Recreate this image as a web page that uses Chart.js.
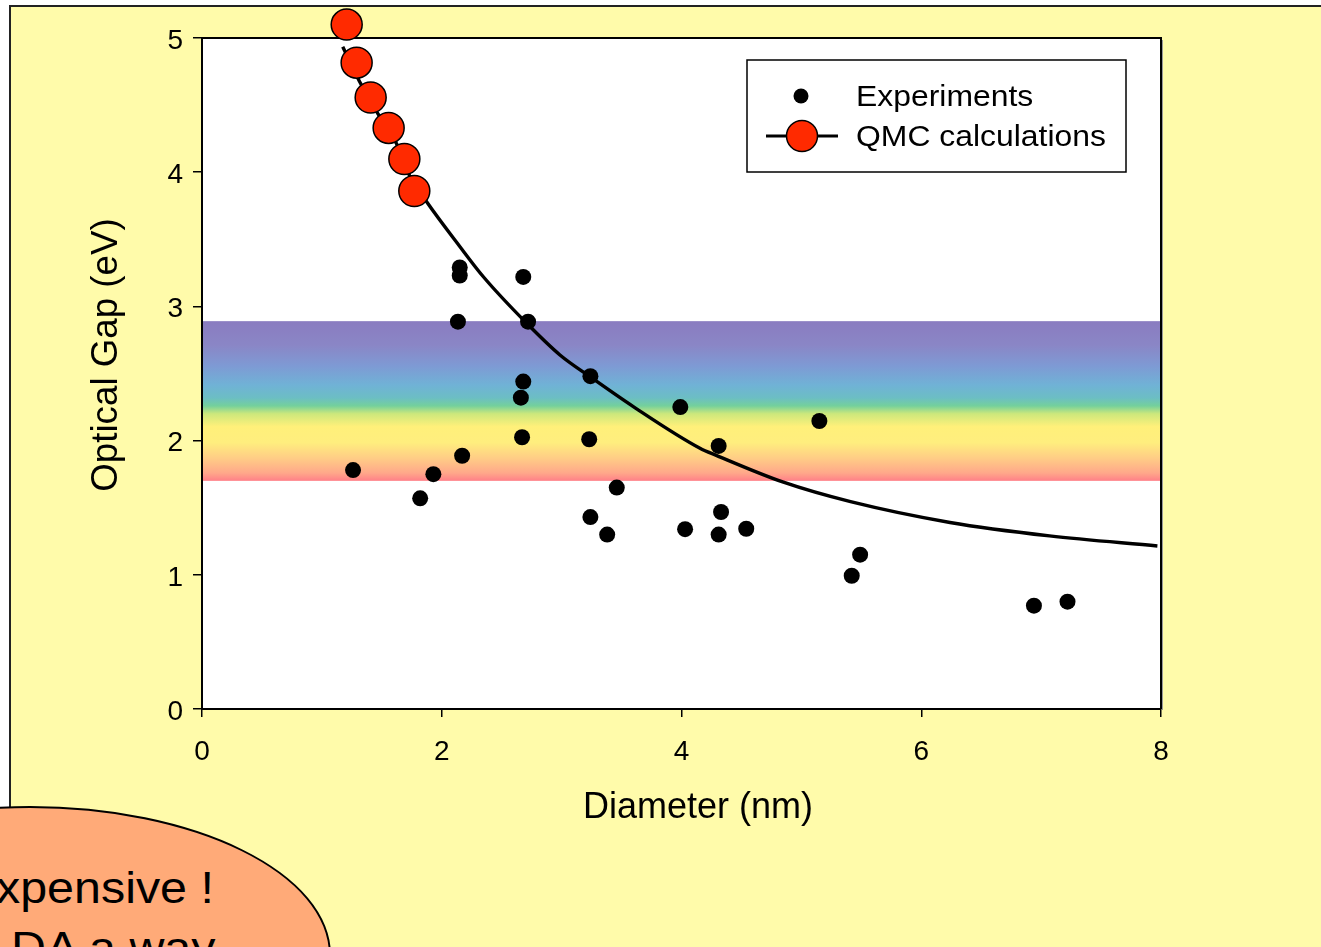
<!DOCTYPE html>
<html>
<head>
<meta charset="utf-8">
<script src="https://cdn.jsdelivr.net/npm/chart.js@4.4.1/dist/chart.umd.min.js"></script>
<style>
html,body{margin:0;padding:0;width:1321px;height:947px;overflow:hidden;background:#fff;font-family:"Liberation Sans",Arial,sans-serif;}
#frame{position:absolute;left:9px;top:5px;width:1400px;height:1000px;background:#FFFBAA;border:2px solid #222;}
#wrap{position:absolute;left:0;top:0;width:1321px;height:947px;}
#bubble{position:absolute;left:-271px;top:806px;width:602px;height:298px;border-radius:50%;background:#FFAA78;border:2px solid #000;box-sizing:border-box;}
.note{position:absolute;font-size:44px;line-height:44px;color:#000;white-space:nowrap;font-family:"Liberation Sans",Arial,sans-serif;transform:scaleX(1.1);transform-origin:0 0;}
</style>
</head>
<body>
<div id="frame"></div>
<div id="wrap"><canvas id="c" width="1321" height="947"></canvas></div>
<div id="bubble"></div>
<div class="note" style="left:-4px;top:866px;">xpensive !</div>
<div class="note" style="left:11px;top:926px;">DA a way</div>
<script>
// ---- data ----
const expX = [1.26, 1.82, 1.93, 2.135, 2.15, 2.15, 2.17, 2.66, 2.67, 2.68, 2.68, 2.72, 3.23, 3.24, 3.24, 3.38, 3.46, 3.99, 4.03, 4.31, 4.31, 4.33, 4.54, 5.15, 5.42, 5.49, 6.94, 7.22];
const expY = [1.78, 1.57, 1.75, 2.886, 3.29, 3.23, 1.887, 2.32, 2.025, 2.44, 3.22, 2.886, 2.01, 1.43, 2.48, 1.30, 1.65, 2.25, 1.34, 1.96, 1.30, 1.468, 1.343, 2.146, 0.993, 1.15, 0.77, 0.80];

const qmcX = [1.207, 1.29, 1.407, 1.557, 1.688, 1.771];
const qmcY = [5.10, 4.816, 4.557, 4.33, 4.098, 3.86];

const fitX = [1.174, 1.312, 1.471, 1.624, 1.729, 1.874, 2.152, 2.347, 2.709, 2.986, 3.237, 3.598, 4.154, 4.29, 4.85, 5.41, 6.24, 7.07, 7.97];
const fitY = [4.935, 4.680, 4.431, 4.210, 3.979, 3.780, 3.445, 3.221, 2.874, 2.638, 2.476, 2.253, 1.943, 1.89, 1.69, 1.545, 1.39, 1.29, 1.215];

const xTicks = [0, 2, 4, 6, 8];
const yTicks = [0, 1, 2, 3, 4, 5];
const bandLow = 1.70, bandHigh = 2.89;

const xTitle = 'Diameter (nm)';
const yTitle = 'Optical Gap (eV)';
const legendLabels = ['Experiments', 'QMC calculations'];

const FONT = '"Liberation Sans", Arial, sans-serif';
const RED = '#FF2A00';

const pts = (xs, ys) => xs.map((x, i) => ({x: x, y: ys[i]}));

const bandPlugin = {
  id: 'band',
  beforeDraw(chart) {
    const {ctx, chartArea: a} = chart;
    ctx.save();
    ctx.fillStyle = '#fff';
    ctx.fillRect(a.left, a.top, a.right - a.left, a.bottom - a.top);
    ctx.restore();
  },
  beforeDatasetsDraw(chart) {
    const {ctx, chartArea: a, scales: {y}} = chart;
    const top = y.getPixelForValue(bandHigh), bot = y.getPixelForValue(bandLow);
    const g = ctx.createLinearGradient(0, top, 0, bot);
    g.addColorStop(0.00, '#8a7cc0');
    g.addColorStop(0.15, '#8a86c6');
    g.addColorStop(0.28, '#7e9ad4');
    g.addColorStop(0.40, '#70b2d6');
    g.addColorStop(0.48, '#6cbec4');
    g.addColorStop(0.53, '#74d09c');
    g.addColorStop(0.58, '#cce87c');
    g.addColorStop(0.66, '#fff07a');
    g.addColorStop(0.76, '#ffee7e');
    g.addColorStop(0.86, '#ffcc86');
    g.addColorStop(0.95, '#ffa88a');
    g.addColorStop(1.00, '#ff8088');
    ctx.save();
    ctx.fillStyle = g;
    ctx.fillRect(a.left + 1, top, a.right - a.left - 1, bot - top);
    // plot frame (top & right)
    ctx.strokeStyle = '#000';
    ctx.lineWidth = 2;
    ctx.beginPath();
    ctx.moveTo(a.left, a.top);
    ctx.lineTo(a.right, a.top);
    ctx.lineTo(a.right, a.bottom);
    ctx.stroke();
    ctx.strokeStyle = '#999';
    ctx.lineWidth = 1;
    ctx.beginPath();
    ctx.moveTo(a.right + 1.5, a.top + 2);
    ctx.lineTo(a.right + 1.5, a.bottom + 1);
    ctx.stroke();
    ctx.restore();
  }
};

const titlePlugin = {
  id: 'axisTitles',
  afterDraw(chart) {
    const {ctx, chartArea: a} = chart;
    ctx.save();
    ctx.fillStyle = '#000';
    ctx.font = '36px ' + FONT;
    ctx.textAlign = 'center';
    ctx.textBaseline = 'middle';
    ctx.fillText(xTitle, a.left + 496, a.bottom + 99);
    ctx.translate(107, a.top + 317);
    ctx.rotate(-Math.PI / 2);
    ctx.scale(1.02, 1.05);
    ctx.fillText(yTitle, 0, 0);
    ctx.restore();
  }
};

const legendPlugin = {
  id: 'boxLegend',
  afterDraw(chart) {
    const {ctx} = chart;
    const ds = chart.data.datasets;
    const bx = 747, by = 60, bw = 379, bh = 112;
    ctx.save();
    ctx.fillStyle = '#fff';
    ctx.fillRect(bx, by, bw, bh);
    ctx.strokeStyle = '#000';
    ctx.lineWidth = 1.5;
    ctx.strokeRect(bx, by, bw, bh);
    // entry 1
    ctx.fillStyle = ds[0].backgroundColor;
    ctx.beginPath();
    ctx.arc(801, 96, 7.5, 0, Math.PI * 2);
    ctx.fill();
    // entry 2
    ctx.strokeStyle = '#000';
    ctx.lineWidth = 3;
    ctx.beginPath();
    ctx.moveTo(766, 136);
    ctx.lineTo(838, 136);
    ctx.stroke();
    ctx.fillStyle = ds[1].backgroundColor;
    ctx.lineWidth = 1.5;
    ctx.beginPath();
    ctx.arc(802, 136, 15.5, 0, Math.PI * 2);
    ctx.fill();
    ctx.stroke();
    ctx.fillStyle = '#000';
    ctx.font = '29px ' + FONT;
    ctx.textAlign = 'left';
    ctx.textBaseline = 'middle';
    ctx.translate(856, 0);
    ctx.scale(1.1, 1);
    ctx.fillText(legendLabels[0], 0, 98);
    ctx.fillText(legendLabels[1], 0, 138);
    ctx.restore();
  }
};

const tickStyle = {color: '#000', font: {family: FONT, size: 28}};

new Chart(document.getElementById('c'), {
  type: 'scatter',
  data: {
    datasets: [
      {label: legendLabels[0], data: pts(expX, expY), backgroundColor: '#000', borderWidth: 0,
       pointRadius: 8, pointHoverRadius: 8, order: 2},
      {label: legendLabels[1], data: pts(qmcX, qmcY), backgroundColor: RED, borderColor: '#000', borderWidth: 1.5,
       pointRadius: 15.5, pointHoverRadius: 15.5, order: 1, clip: false},
      {label: 'fit', type: 'line', data: pts(fitX, fitY), borderColor: '#000', borderWidth: 3.4, pointRadius: 0,
       fill: false, cubicInterpolationMode: 'monotone', order: 3}
    ]
  },
  options: {
    responsive: false,
    animation: false,
    devicePixelRatio: 1,
    events: [],
    layout: {padding: {left: 0, top: 38, right: 160, bottom: 0}},
    plugins: {legend: {display: false}, tooltip: {enabled: false}},
    scales: {
      x: {
        type: 'linear', min: 0, max: 8,
        afterBuildTicks: s => { s.ticks = xTicks.map(v => ({value: v})); },
        afterFit: s => { s.height = 947 - 709; },
        grid: {display: true, drawOnChartArea: false, drawTicks: true, tickLength: 8, color: '#000', lineWidth: 1.5},
        border: {display: true, color: '#000', width: 2},
        ticks: Object.assign({padding: 18, maxRotation: 0, autoSkip: false}, tickStyle)
      },
      y: {
        type: 'linear', min: 0, max: 5,
        afterBuildTicks: s => { s.ticks = yTicks.map(v => ({value: v})); },
        afterFit: s => { s.width = 202; },
        grid: {display: true, drawOnChartArea: false, drawTicks: true, tickLength: 9, color: '#000', lineWidth: 1.5},
        border: {display: true, color: '#000', width: 2},
        ticks: Object.assign({padding: 10, autoSkip: false, labelOffset: 3}, tickStyle)
      }
    }
  },
  plugins: [bandPlugin, titlePlugin, legendPlugin]
});
</script>
</body>
</html>
